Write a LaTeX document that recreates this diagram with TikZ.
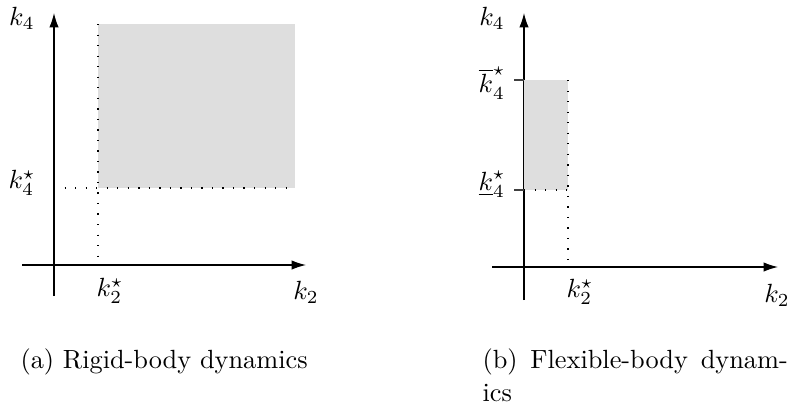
\documentclass[tikz,border=0pt]{standalone}
\usetikzlibrary{arrows.meta}
\definecolor{regiongray}{RGB}{222,222,222}
\begin{document}
\begin{tikzpicture}[x=0.38pt,y=-0.38pt,
  axis/.style={line width=0.45pt,-{Latex[length=5.5pt,width=3.6pt]}},
  guide/.style={line width=0.5pt,dash pattern=on 0.5pt off 3.5pt},
  tickmark/.style={line width=0.5pt,draw=black!75},
  lbl/.style={inner sep=0pt},
  region/.style={fill=regiongray,draw=none}]
\useasboundingbox (0,0) rectangle (792,405);
% ---------- (a) ----------
\coordinate (ay0) at (54,296);
\coordinate (ay1) at (54,13);
\coordinate (ax0) at (22,265);
\coordinate (ax1) at (306,265);
\coordinate (ar0) at (98,24);
\coordinate (ar1) at (295,188);
\fill[region] (ar0) rectangle (ar1);
\coordinate (avb) at (98,265);
\coordinate (ahl) at (54,188);
\coordinate (ahr) at (288,188);
\draw[guide] (ar0) -- (avb);
\draw[guide] (ahl) -- (ahr);
\draw[axis] (ay0) -- (ay1);
\draw[axis] (ax0) -- (ax1);
\node[lbl] (ak4) at (22,18) {$k_4$};
\node[lbl] (ak4s) at (22,183) {$k_4^\star$};
\node[lbl] (ak2s) at (110,291) {$k_2^\star$};
\node[lbl] (ak2) at (306,292) {$k_2$};
\node[lbl,anchor=base west] (capa) at (20,368) {(a) Rigid-body dynamics};
% ---------- (b) ----------
\coordinate (by0) at (524,300);
\coordinate (by1) at (524,13);
\coordinate (bx0) at (492,267);
\coordinate (bx1) at (778,267);
\draw[axis] (by0) -- (by1);
\draw[axis] (bx0) -- (bx1);
\coordinate (br0) at (524,80);
\coordinate (br1) at (568,190);
\fill[region] (br0) rectangle (br1);
\coordinate (btt) at (514,80);
\coordinate (btb) at (514,190);
\coordinate (bbl) at (524,190);
\coordinate (btr) at (568,80);
\coordinate (bvb) at (568,267);
\draw[tickmark] (btt) -- (br0);
\draw[tickmark] (btb) -- (bbl);
\draw[guide] (btr) -- (bvb);
\draw[guide] (bbl) -- (br1);
\node[lbl] (bk4) at (492,18) {$k_4$};
\node[lbl] (bk4u) at (492,83) {$\overline{k}_4^\star$};
\node[lbl] (bk4l) at (492,184) {$\underline{k}_4^\star$};
\node[lbl] (bk2s) at (580,292) {$k_2^\star$};
\node[lbl] (bk2) at (777,295) {$k_2$};
\node[lbl,anchor=base west] (capb) at (482,368) {\makebox[116pt][s]{(b) Flexible-body dynam-}};
\node[lbl,anchor=base west] (capb2) at (482,401) {ics};
\end{tikzpicture}
\end{document}
